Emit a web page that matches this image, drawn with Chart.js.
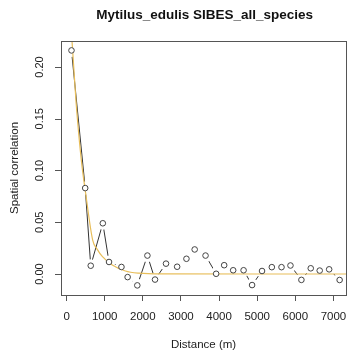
<!DOCTYPE html>
<html>
<head>
<meta charset="utf-8">
<script src="https://cdn.jsdelivr.net/npm/chart.js@4"></script>
<style>
  html, body { margin: 0; padding: 0; background: #fff; }
  #wrap { width: 355px; height: 358px; }
</style>
</head>
<body>
<div id="wrap"><canvas id="c" width="355" height="358"></canvas></div>
<script>
// lag distances (m) and correlogram values
distances = [128, 488, 633, 950, 1113, 1439, 1601, 1855, 2120, 2320, 2608, 2900, 3144, 3360,
             3645, 3923, 4134, 4370, 4643, 4866, 5127, 5384, 5638, 5873, 6160, 6405, 6640, 6888, 7163]
correlation = [0.216, 0.083, 0.008, 0.049, 0.0116, 0.0068, -0.003, -0.011, 0.0178, -0.0054, 0.010,
               0.007, 0.0147, 0.0237, 0.0178, 0.0002, 0.0085, 0.0036, 0.0036, -0.0107, 0.0029,
               0.0066, 0.0066, 0.0082, -0.0057, 0.0055, 0.0033, 0.0045, -0.0058]

// fitted curve
fitDist = [110, 140, 250, 386, 500, 684, 800, 941, 1198, 1542, 1900, 2500, 7400]
fitVal = [0.245, 0.226, 0.165, 0.110, 0.078, 0.0328, 0.024, 0.0167, 0.0087, 0.0029, 0.0008, 0.0001, 0.0]

xTicks = [0, 1000, 2000, 3000, 4000, 5000, 6000, 7000]
yTicks = [0.00, 0.05, 0.10, 0.15, 0.20]

const TITLE = 'Mytilus_edulis SIBES_all_species'
const FONT = 'Liberation Sans, Arial, Helvetica, sans-serif'
const AXIS = '#555'

const pts = distances.map((d, i) => ({x: d, y: correlation[i]}))
const fit = fitDist.map((d, i) => ({x: d, y: fitVal[i]}))

// R style: box round the plot, y ticks with rotated labels, title over the plot region
const rPlot = {
  id: 'rPlot',
  afterDraw(chart) {
    const {ctx, chartArea: a} = chart
    const y = chart.scales.y
    ctx.save()
    ctx.strokeStyle = AXIS
    ctx.lineWidth = 1
    ctx.strokeRect(Math.round(a.left) + 0.5, Math.round(a.top) + 0.5,
                   Math.round(a.right - a.left), Math.round(a.bottom - a.top))
    ctx.fillStyle = '#222'
    ctx.font = '11px ' + FONT
    ctx.textAlign = 'center'
    ctx.textBaseline = 'middle'
    yTicks.forEach(v => {
      const py = Math.round(y.getPixelForValue(v)) + 0.5
      ctx.beginPath()
      ctx.moveTo(Math.round(a.left) - 6, py)
      ctx.lineTo(Math.round(a.left), py)
      ctx.stroke()
      ctx.save()
      ctx.translate(40, y.getPixelForValue(v))
      ctx.rotate(-Math.PI / 2)
      ctx.fillText(v.toFixed(2), 0, 0)
      ctx.restore()
    })
    ctx.fillStyle = '#111'
    ctx.font = 'bold 13.5px ' + FONT
    ctx.fillText(TITLE, (a.left + a.right) / 2 + 1, 15)
    ctx.restore()
  }
}

new Chart(document.getElementById('c'), {
  type: 'scatter',
  data: {
    datasets: [
      {
        data: pts,
        showLine: false,
        pointRadius: 2.8,
        pointBorderWidth: 1,
        pointBackgroundColor: '#fff',
        pointBorderColor: '#444'
      },
      {
        data: fit,
        showLine: true,
        borderColor: 'rgb(232,190,90)',
        borderWidth: 1.2,
        cubicInterpolationMode: 'monotone',
        pointRadius: 0
      },
      {
        // joining line, with gaps round the points like type = "b"
        data: pts,
        showLine: true,
        borderColor: '#333',
        borderWidth: 1,
        pointRadius: 6.5,
        pointBorderWidth: 0,
        pointBackgroundColor: '#fff',
        pointBorderColor: '#fff'
      }
    ]
  },
  options: {
    responsive: false,
    animation: false,
    events: [],
    layout: { padding: { left: 0, right: 3, top: 41, bottom: 0 } },
    plugins: {
      legend: { display: false },
      tooltip: { enabled: false },
      title: { display: false }
    },
    scales: {
      x: {
        type: 'linear',
        min: -147,
        max: 7334,
        afterFit(s) { s.height = 63 },
        afterBuildTicks(s) { s.ticks = xTicks.map(v => ({value: v})) },
        border: { display: false },
        grid: { display: true, drawOnChartArea: false, drawTicks: true, tickLength: 6, color: AXIS },
        ticks: {
          includeBounds: false,
          maxRotation: 0,
          autoSkip: false,
          padding: 8.5,
          color: '#222',
          font: { family: FONT, size: 11.5 },
          callback: v => String(v)
        },
        title: {
          display: true,
          text: 'Distance (m)',
          color: '#222',
          font: { family: FONT, size: 11.5 },
          padding: { top: 0, bottom: 6 }
        }
      },
      y: {
        type: 'linear',
        min: -0.0203,
        max: 0.2251,
        afterFit(s) { s.width = 61 },
        afterBuildTicks(s) { s.ticks = yTicks.map(v => ({value: v})) },
        border: { display: false },
        grid: { display: false },
        ticks: { display: false, includeBounds: false },
        title: {
          display: true,
          text: 'Spatial correlation',
          color: '#222',
          font: { family: FONT, size: 11.5 },
          padding: { top: 8, bottom: 0 }
        }
      }
    }
  },
  plugins: [rPlot]
})
</script>
</body>
</html>
